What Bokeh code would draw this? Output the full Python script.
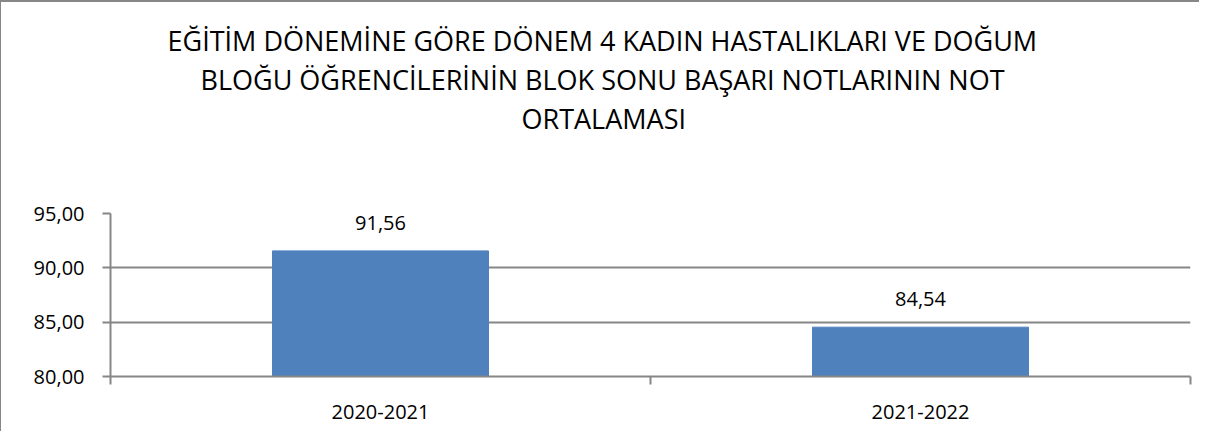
from bokeh.plotting import figure
from bokeh.models import FixedTicker, Range1d, Title, ColumnDataSource, LabelSet
from bokeh.core.properties import value
from bokeh.embed import file_html
from bokeh.resources import INLINE

title_lines = [
    "EĞİTİM DÖNEMİNE GÖRE DÖNEM 4 KADIN HASTALIKLARI VE DOĞUM",
    "BLOĞU ÖĞRENCİLERİNİN  BLOK SONU BAŞARI NOTLARININ NOT",
    "ORTALAMASI",
]
categories = ["2020-2021", "2021-2022"]
values = [91.56, 84.54]
y_ticks = [80, 85, 90, 95]

FONT = "Open Sans"
GRAY = "#868686"
BAR = "#4F81BD"

xpos = [i + 0.5 for i in range(len(categories))]
labels = [f"{v:.2f}".replace(".", ",") for v in values]
src = ColumnDataSource(dict(x=xpos, top=values, label=labels))

p = figure(width=1200, height=431, output_backend="svg", toolbar_location=None,
           x_range=Range1d(0, len(categories)), y_range=Range1d(y_ticks[0], y_ticks[-1]),
           min_border_left=109, min_border_right=11, min_border_bottom=57, min_border_top=211)
p.styles = {"border-top": "2px solid #878787", "border-left": "2px solid #878787",
            "margin-left": "-1px"}

# title lines: outermost is p.title, then added ones stack toward the frame
title_offsets = [57, 90, 411]

def style_title(t, txt, off, size="27px"):
    t.text = txt
    t.align = "left"
    t.offset = off
    t.text_font = FONT
    t.text_font_size = size
    t.text_font_style = "normal"
    t.text_color = "#000000"
    t.standoff = 0

style_title(p.title, title_lines[0], title_offsets[0])
# spacer between title block and plot area
spacer = Title()
style_title(spacer, " ", 0, size="55px")
p.add_layout(spacer, "above")
for i in (2, 1):
    t = Title()
    style_title(t, title_lines[i], title_offsets[i])
    p.add_layout(t, "above")

p.outline_line_color = None
p.background_fill_color = "white"
p.border_fill_color = "white"

p.vbar(x="x", top="top", bottom=y_ticks[0], width=0.4, source=src,
       fill_color=BAR, line_color=BAR)
p.add_layout(LabelSet(x="x", y="top", text="label", source=src, text_align="center",
                      text_baseline="bottom", y_offset=21, text_font=value(FONT),
                      text_font_size="20px", text_color="#000000"))

# y axis
p.yaxis.ticker = FixedTicker(ticks=y_ticks, minor_ticks=[])
p.yaxis.major_label_overrides = {t: f"{t:.2f}".replace(".", ",") for t in y_ticks}
p.yaxis.axis_line_color = GRAY
p.yaxis.axis_line_width = 2
p.yaxis.major_tick_line_color = GRAY
p.yaxis.major_tick_line_width = 2
p.yaxis.major_tick_out = 8
p.yaxis.major_tick_in = 0
p.yaxis.major_label_standoff = 18
p.yaxis.major_label_text_font = FONT
p.yaxis.major_label_text_font_size = "20px"
p.yaxis.major_label_text_color = "#000000"

# x axis
p.xaxis.ticker = FixedTicker(ticks=xpos, minor_ticks=list(range(len(categories) + 1)))
p.xaxis.major_label_overrides = {x: c for x, c in zip(xpos, categories)}
p.xaxis.axis_line_color = GRAY
p.xaxis.axis_line_width = 2
p.xaxis.major_tick_line_color = None
p.xaxis.major_tick_out = 0
p.xaxis.major_tick_in = 0
p.xaxis.minor_tick_line_color = GRAY
p.xaxis.minor_tick_line_width = 2
p.xaxis.minor_tick_out = 8
p.xaxis.minor_tick_in = 0
p.xaxis.major_label_standoff = 20
p.xaxis.major_label_text_font = FONT
p.xaxis.major_label_text_font_size = "20px"
p.xaxis.major_label_text_color = "#000000"

p.xgrid.grid_line_color = None
p.ygrid.ticker = FixedTicker(ticks=y_ticks)
p.ygrid.grid_line_color = GRAY
p.ygrid.grid_line_width = 2

open("out.html", "w").write(file_html(p, INLINE))
